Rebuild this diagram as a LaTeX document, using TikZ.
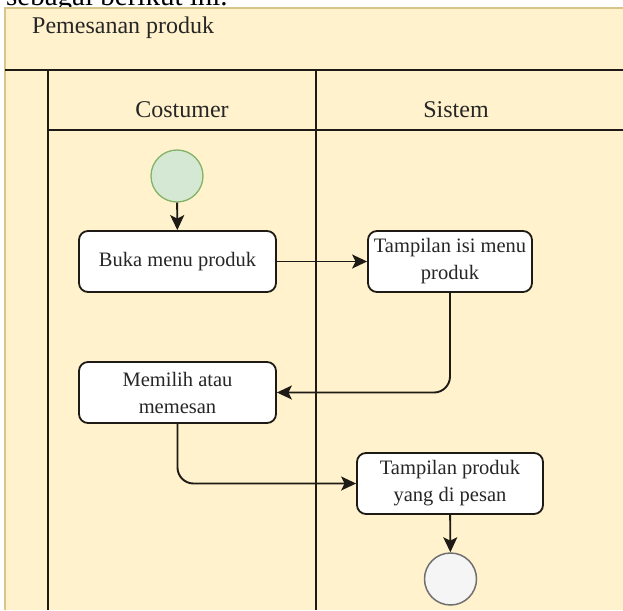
\documentclass[tikz,border=0pt]{standalone}
\usepackage{fontspec}
\setmainfont{Liberation Serif}
\usetikzlibrary{arrows.meta}

\definecolor{poolfill}{HTML}{FFF2CC}
\definecolor{poolborder}{HTML}{D8C58A}
\definecolor{inkline}{HTML}{1E1A16}
\definecolor{inktext}{HTML}{262626}
\definecolor{startfill}{HTML}{D5E8D4}
\definecolor{startdraw}{HTML}{82B366}
\definecolor{endfill}{HTML}{F5F5F5}
\definecolor{enddraw}{HTML}{707070}

\tikzset{
  laneline/.style={draw=inkline, line width=1.9pt},
  headtext/.style={text=inktext, inner sep=0pt, font=\fontsize{24}{28}\selectfont},
  action/.style={draw=inkline, fill=white, line width=1.8pt, rounded corners=9pt,
    align=center, inner sep=2pt, text=inktext,
    font=\fontsize{20.5}{27}\selectfont},
  startnode/.style={circle, draw=startdraw, fill=startfill, line width=1.3pt,
    minimum size=52pt, inner sep=0pt},
  endnode/.style={circle, draw=enddraw, fill=endfill, line width=1.5pt,
    minimum size=52pt, inner sep=0pt},
  flow/.style={draw=inkline, line width=1.9pt, rounded corners=16pt,
    -{Stealth[length=15pt, width=14pt, inset=3.5pt]}},
}

\begin{document}
\begin{tikzpicture}[x=1pt, y=-1pt]
\useasboundingbox (0,0) rectangle (623,610);

% preceding sentence, cut by the top edge
\begin{scope}
  \clip (0,0) rectangle (623,8);
  \node[anchor=base west, inner sep=0pt, font=\fontsize{29}{32}\selectfont] (intro) at (6,6) {sebagai berikut ini.};
\end{scope}

% pool
\fill[poolfill] (5,8) rectangle (623,610);
\draw[poolborder, line width=1.4pt] (5,610) -- (5,8) -- (623,8);

% pool header and lanes
\draw[laneline] (5,70) -- (623,70);
\draw[laneline] (48,70) -- (48,610);
\draw[laneline] (316,70) -- (316,610);
\draw[laneline] (48,130) -- (623,130);

\node[headtext, anchor=base west] (pool) at (32,34) {Pemesanan produk};
\node[headtext, anchor=base] (lanecust) at (182,117) {Costumer};
\node[headtext, anchor=base] (lanesys) at (456,117) {Sistem};

% activity nodes
\node[startnode] (start) at (177,176) {};
\node[action, minimum width=197pt, minimum height=61pt] (buka) at (177.5,261.5) {Buka menu produk};
\node[action, minimum width=164pt, minimum height=61pt] (isimenu) at (450,261.5) {Tampilan isi menu\\produk};
\node[action, minimum width=197pt, minimum height=61pt] (memilih) at (177.5,392.5) {Memilih atau\\memesan};
\node[action, minimum width=186pt, minimum height=61pt] (pesanan) at (450,483.5) {Tampilan produk\\yang di pesan};
\node[endnode] (finish) at (450.5,579) {};

% control flow
\draw[flow] (start) -- (buka);
\draw[flow] (buka) -- (isimenu);
\draw[flow] (isimenu.south) |- (memilih.east);
\draw[flow] (memilih.south) |- (pesanan.west);
\draw[flow] (pesanan) -- (finish);
\end{tikzpicture}
\end{document}
